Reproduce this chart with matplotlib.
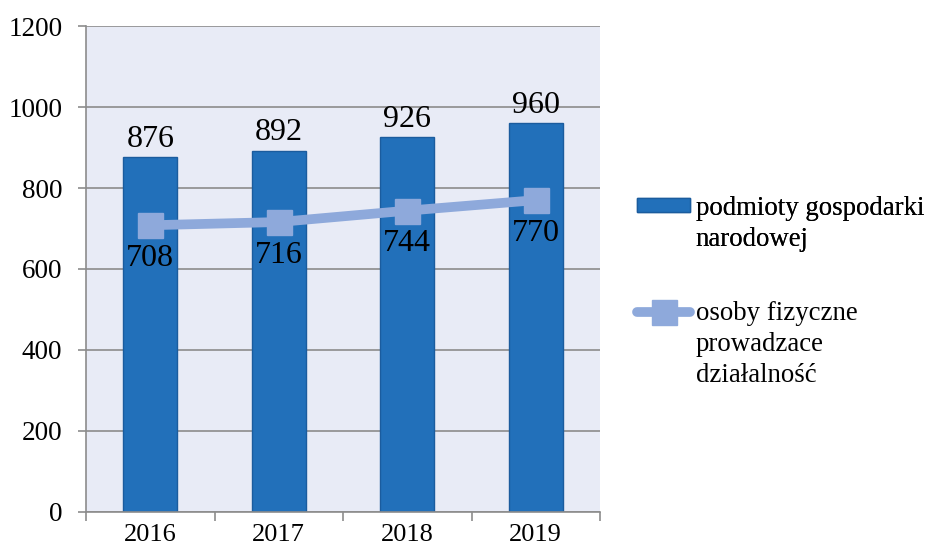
import matplotlib.pyplot as plt
from matplotlib.lines import Line2D
import numpy as np

years = ['2016', '2017', '2018', '2019']
podmioty = [876, 892, 926, 960]
osoby = [708, 716, 744, 770]
label_1 = ['podmioty gospodarki', 'narodowej']
label_2 = ['osoby fizyczne', 'prowadzace', 'działalność']

plt.rcParams['font.family'] = ['Liberation Serif', 'DejaVu Serif']

fig = plt.figure(figsize=(9.27, 5.51), dpi=100)
ax = fig.add_axes([0.0928, 0.0708, 0.5545, 0.882])
ax.set_facecolor('#E8EBF6')

x = np.arange(len(years))
bars = ax.bar(x, podmioty, width=0.42, color='#2270BA', edgecolor='#1B5C9E',
              linewidth=1, zorder=2)
line, = ax.plot(x, osoby, color='#8EA9DB', linewidth=7, marker='s', markersize=18,
                solid_capstyle='round', zorder=3)

# Data labels
for xi, v in zip(x, podmioty):
    ax.text(xi, v + 44, str(v), ha='center', va='center', fontsize=23)
for xi, v in zip(x, osoby):
    ax.text(xi, v - 82, str(v), ha='center', va='center', fontsize=23)

ax.set_xlim(-0.5, 3.5)
ax.set_ylim(0, 1200)
ax.set_yticks(range(0, 1201, 200))
ax.yaxis.grid(True, color='#8C8C8C', linewidth=1.2, zorder=0)
ax.set_axisbelow(True)

ax.set_xticks(x)
ax.set_xticklabels(years)
ax.set_xticks(np.arange(-0.5, 4, 1), minor=True)
ax.tick_params(axis='x', which='major', length=0, pad=9, labelsize=19)
ax.tick_params(axis='x', which='minor', length=6.5, color='#8C8C8C', width=1.2)
ax.tick_params(axis='y', length=6, color='#8C8C8C', width=1.2, pad=11, labelsize=19.5)

for s in ['top', 'right']:
    ax.spines[s].set_visible(False)
for s in ['left', 'bottom']:
    ax.spines[s].set_color('#8C8C8C')
    ax.spines[s].set_linewidth(1.2)

# Legend: handle next to the first line of each label
blank = Line2D([], [], linestyle='none')
leg_kw = dict(loc='upper left', frameon=False, fontsize=19.3, handlelength=2.0,
              handletextpad=0.2, labelspacing=0.22, borderaxespad=0, borderpad=0,
              handleheight=0.45)
leg1 = fig.legend(handles=[bars] + [blank] * (len(label_1) - 1), labels=label_1,
                  bbox_to_anchor=(0.687, 0.645), **leg_kw)
fig.legend(handles=[line] + [blank] * (len(label_2) - 1), labels=label_2,
           bbox_to_anchor=(0.687, 0.453), **leg_kw)
fig.add_artist(leg1)

plt.savefig('out.png', dpi=100)
